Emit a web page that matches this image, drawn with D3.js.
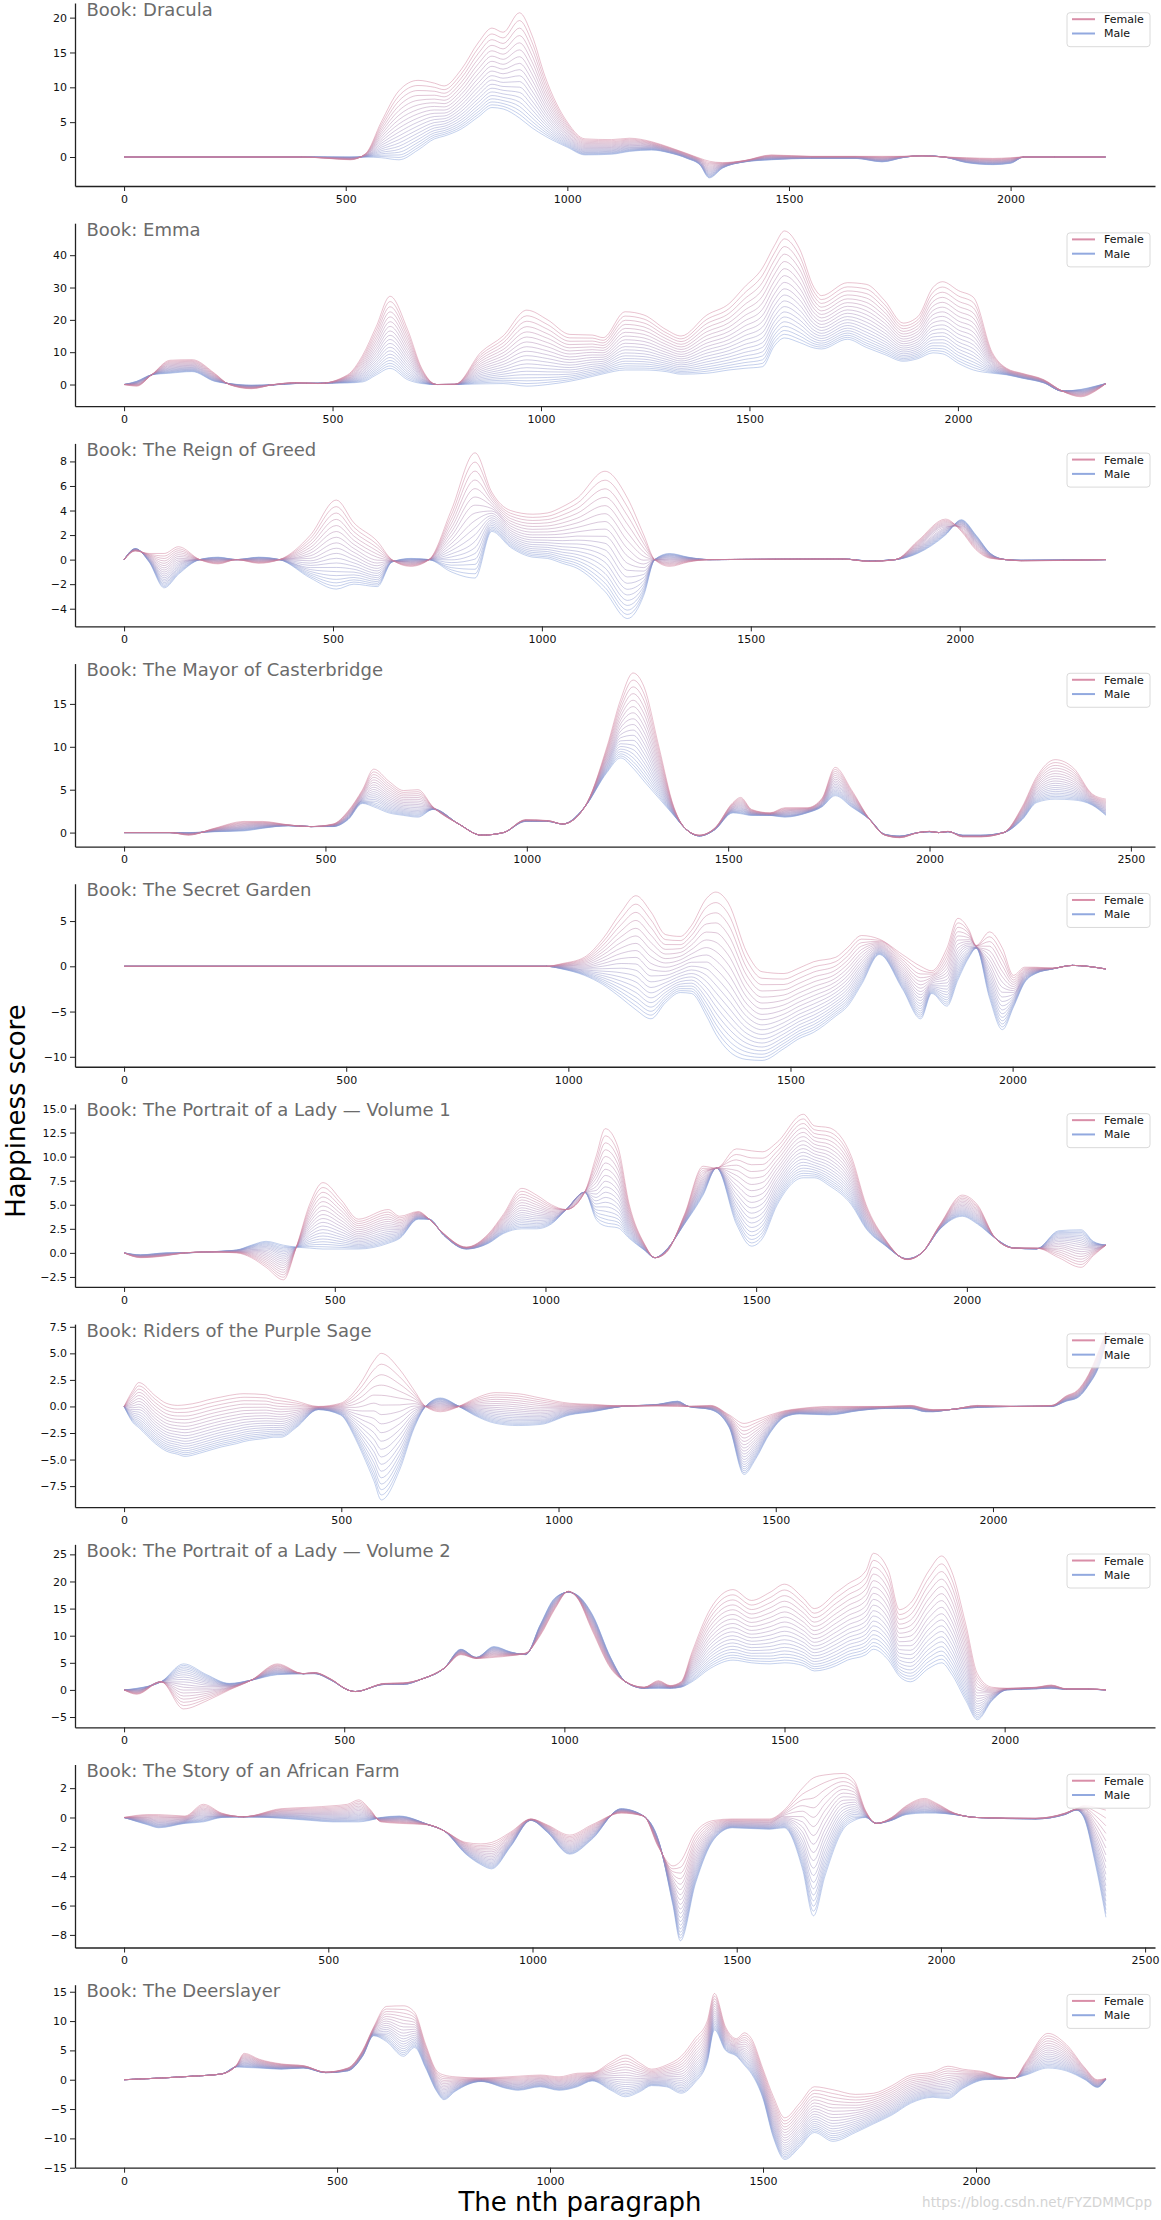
<!DOCTYPE html>
<html><head><meta charset="utf-8">
<script src="https://cdn.jsdelivr.net/npm/d3@7"></script>
<style>body{margin:0;background:#fff}svg{display:block;font-family:"DejaVu Sans",sans-serif}</style>
</head><body>
<svg id="chart" width="1161" height="2220"></svg>
<script>
// ---------------- data ----------------
const bookTitles = ["Dracula","Emma","The Reign of Greed","The Mayor of Casterbridge","The Secret Garden",
  "The Portrait of a Lady \u2014 Volume 1","Riders of the Purple Sage","The Portrait of a Lady \u2014 Volume 2",
  "The Story of an African Farm","The Deerslayer"];
const paragraphCounts = [2215, 2355, 2350, 2438, 2210, 2330, 2260, 2230, 2404, 2305];
const yDomains = [[-4.16,22.1],[-6.7,49.9],[-5.44,9.47],[-1.63,19.7],[-11.1,9.12],[-3.54,15.47],[-9.48,7.75],[-6.9,26.85],[-8.86,3.61],[-15.0,16.2]];
const yTickValues = [[0,5,10,15,20],[0,10,20,30,40],[-4,-2,0,2,4,6,8],[0,5,10,15],[-10,-5,0,5],
  [-2.5,0,2.5,5,7.5,10,12.5,15],[-7.5,-5,-2.5,0,2.5,5,7.5],[-5,0,5,10,15,20,25],[-8,-6,-4,-2,0,2],[-15,-10,-5,0,5,10,15]];
const yTickDecimals = [0,0,0,0,0,1,1,0,0,0];
const xTickValues = [[0,500,1000,1500,2000],[0,500,1000,1500,2000],[0,500,1000,1500,2000],[0,500,1000,1500,2000,2500],
  [0,500,1000,1500,2000],[0,500,1000,1500,2000],[0,500,1000,1500,2000],[0,500,1000,1500,2000],[0,500,1000,1500,2000,2500],[0,500,1000,1500,2000]];
const legendLabels = ["Female","Male"];
// weights of the female curve for the family of lines (0 = male, 1 = female)
const mixWeights = [0,0.034,0.07,0.109,0.151,0.196,0.243,0.293,0.346,0.401,0.459,0.519,0.582,0.647,0.714,0.783,0.854,0.926,1];

const draculaX = [0,400,460,510,545,580,620,663,700,722,760,800,830,855,892,920,950,1000,1040,1100,1140,1190,1230,1270,1300,1320,1350,1400,1460,1550,1650,1710,1760,1800,1850,1900,1960,2000,2030,2100,2214];
const draculaFemale = [0,0,-0.2,-0.4,0.5,5.0,9.5,11.0,10.6,10.2,12.5,16.5,18.5,17.9,20.7,17.5,11.5,5.0,2.6,2.5,2.7,2.2,1.4,0.5,-0.2,-0.6,-0.8,-0.5,0.3,0.1,0.1,0.1,0.1,0.15,0,-0.1,-0.2,-0.1,0,0,0];
const draculaMale = [0,0,0,0,0,-0.1,-0.4,1.0,2.6,3.0,4.0,5.8,7.1,6.9,5.6,4.2,3.0,1.4,0.3,0.4,0.8,1.0,0.6,-0.2,-1.2,-3.0,-1.6,-0.7,-0.4,-0.2,-0.2,-0.7,-0.05,0.2,0,-0.8,-1.1,-0.9,0,0,0];

const emmaX = [0,30,66,110,163,217,252,305,359,412,465,536,572,605,638,680,714,750,794,856,909,966,1016,1069,1123,1149,1202,1247,1300,1336,1398,1451,1487,1531,1560,1584,1620,1655,1673,1735,1780,1824,1869,1904,1940,1963,2002,2037,2082,2117,2153,2206,2250,2295,2330,2355];
const emmaFemale = [0,-0.5,3.0,7.5,7.7,3.5,0,-1.3,0,0.6,0.3,3,9,18,27.3,17,5,0,0.1,10,15,23,20,15.5,15.3,14.5,22.5,21.5,17,15,21.5,25,30,36,43,47.5,42,30,27.5,31.5,31,26,19,21,30,31.8,29,27,10,5,3.5,1.5,-2,-3.8,-2,0.3];
const emmaMale = [0,1.0,3.0,3.5,4.0,1.0,0.3,-0.2,-0.1,0.3,0.4,0.5,0.8,3.0,5.0,1.5,0.3,0,0,0.2,0.3,-0.5,0,1.0,2.5,3.3,4.5,4.5,4.0,3.2,3.5,4.5,5.0,5.5,12,14.4,13.0,11.3,11.0,14.0,11.5,9.3,7.2,8.0,9.8,9.5,6.5,4.5,3.5,3.0,2.0,0.5,-2.0,-1.5,-0.5,0.3];

const greedX = [0,27,60,96,130,181,225,269,322,372,446,508,550,606,641,686,730,783,840,880,925,978,1013,1049,1084,1151,1205,1244,1270,1306,1350,1400,1720,1784,1846,1899,1966,2004,2039,2074,2110,2147,2350];
const greedFemale = [0,0.7,0.5,0.5,1.05,0,-0.35,0,-0.3,0,2.0,4.85,3.0,1.5,0,-0.55,0,4.0,8.7,5.5,4.0,3.7,3.8,4.3,5.0,7.2,5.0,2.0,0,-0.55,-0.2,0,0.05,-0.15,0,1.5,3.3,2.3,0.8,0.1,0,-0.1,0];
const greedMale = [0,0.9,-0.2,-2.3,-1.2,0,0.2,0,0.2,0,-1.5,-2.4,-2.0,-2.2,-0.2,0.1,0,-1.0,-1.5,2.3,1.0,0.2,0.1,-0.3,-0.7,-2.6,-4.8,-2.9,0,0.5,0.2,0,0.05,-0.1,0,0.5,2.0,3.25,2.0,0.5,0,-0.05,0];

const mayorX = [0,114,160,224,298,344,408,464,519,556,592,620,657,694,730,767,831,887,942,997,1052,1089,1144,1199,1233,1264,1291,1328,1365,1393,1429,1466,1512,1531,1558,1604,1641,1696,1733,1766,1806,1852,1889,1926,1972,2000,2023,2046,2082,2128,2184,2230,2266,2312,2358,2404,2438];
const mayorFemale = [0,0,-0.3,0.5,1.3,1.3,0.9,0.7,1.0,2.5,5.0,7.4,6.0,4.9,5.0,3.0,1.0,-0.3,0,1.5,1.4,1.0,3.0,10.0,15.5,18.6,17.0,10.0,3.0,0.5,-0.3,0.5,3.5,4.1,2.7,2.3,2.9,2.9,4.0,7.6,5.0,1.5,-0.3,-0.6,0,0.15,0,0.15,-0.5,-0.5,0,3.0,6.5,8.5,7.5,4.5,3.9];
const mayorMale = [0,0,0,0.1,0.2,0.5,0.8,0.7,0.7,1.5,3.4,3.0,2.3,2.0,1.8,2.7,1.0,-0.3,0,1.3,1.3,1.0,3.0,7.0,8.7,7.5,6.0,4.0,2.0,0.5,-0.4,0.3,2.3,2.2,2.0,2.0,1.8,2.3,3.0,4.3,3.0,1.5,-0.2,-0.4,0,0.1,0,0.1,-0.3,-0.3,0,1.5,3.5,3.9,3.8,3.2,2.0];

const gardenX = [0,950,986,1036,1077,1119,1152,1186,1219,1252,1277,1311,1332,1360,1402,1436,1485,1519,1552,1602,1627,1660,1700,1752,1793,1818,1852,1877,1902,1918,1948,1977,2002,2027,2052,2090,2135,2210];
const gardenFemale = [0,0,0.3,1.0,3.0,6.0,7.8,6.0,3.5,3.3,4.5,7.5,8.2,7.0,1.5,-0.6,-0.8,-0.2,0.5,1.0,2.0,3.4,3.0,1.3,0,-0.5,2.0,5.3,4.0,2.3,3.8,2.0,-1.0,-0.1,-0.1,-0.2,0.1,-0.3];
const gardenMale = [0,0,-0.3,-1.0,-2.0,-3.5,-4.8,-5.8,-4.0,-2.9,-3.0,-5.5,-7.5,-9.3,-10.3,-10.4,-9.1,-8.0,-7.3,-5.5,-4.5,-2.0,1.3,-2.5,-5.8,-3.0,-4.4,-1.5,1.0,2.0,-3.5,-7.0,-4.5,-1.8,-0.8,-0.3,0.1,-0.3];

const lady1X = [0,39,100,144,197,267,302,337,378,408,440,472,515,556,627,654,698,724,759,812,865,900,944,979,1014,1049,1093,1120,1142,1172,1199,1234,1260,1286,1330,1374,1406,1453,1489,1515,1550,1612,1638,1673,1726,1761,1805,1858,1893,1937,1989,2025,2068,2112,2165,2218,2271,2300,2330];
const lady1Female = [0,-0.5,-0.3,0,0.1,0,-0.5,-1.5,-2.8,0.5,5.0,7.3,5.5,3.5,4.5,3.8,4.3,3.5,2.0,0.6,2.0,4.0,6.7,6.0,5.0,4.5,6.3,10.0,12.9,11.0,5.0,1.0,-0.5,0,4.0,9.0,8.8,10.8,10.6,10.5,11.5,14.4,13.2,13.0,10.0,5.0,1.5,-0.7,0,3.0,6.0,5.0,1.5,0.5,0.5,-0.5,-1.5,-0.3,0.8];
const lady1Male = [0,-0.2,0,0,0.1,0.3,0.8,1.2,0.8,0.6,0.5,0.4,0.4,0.4,1.0,1.5,3.5,3.5,1.8,0.4,1.0,2.0,2.5,2.5,3.0,4.5,6.3,3.5,2.8,2.6,1.5,0.3,-0.5,0.3,3.0,6.0,8.8,3.0,0.7,1.5,5.0,7.8,7.8,7.0,5.0,2.5,0.8,-0.6,0,2.5,3.8,3.0,1.5,0.5,0.4,2.3,2.4,1.2,0.8];

const ridersX = [0,20,34,72,97,123,140,174,191,225,259,276,327,344,361,396,447,498,532,549,575,592,634,668,694,728,771,805,856,907,958,1026,1078,1146,1229,1274,1299,1350,1393,1427,1453,1487,1521,1555,1623,1691,1750,1811,1845,1862,1900,1964,2050,2135,2169,2194,2220,2246,2260];
const ridersFemale = [0,1.5,2.25,1.0,0.3,0.1,0.15,0.4,0.6,0.9,1.15,1.2,1.1,0.9,0.8,0.5,0,0.3,1.5,2.5,4.3,5.0,3.5,1.5,0,-0.5,0,0.7,1.3,1.2,0.8,0.3,0.2,0.05,0.05,0,0,0.1,-0.8,-1.6,-1.3,-0.8,-0.4,-0.2,0,0,0,0.1,-0.2,-0.3,-0.3,0.1,0,0.1,1.0,1.5,3.0,5.5,7.0];
const ridersMale = [0,-1.5,-2.0,-3.5,-4.2,-4.5,-4.7,-4.4,-4.2,-3.8,-3.5,-3.3,-3.0,-2.9,-2.9,-2.0,-0.3,-0.8,-3.0,-4.5,-7.0,-8.8,-6.0,-2.0,0,0.8,0,-0.8,-1.6,-1.8,-1.7,-0.8,-0.5,0,0.2,0.5,0,-0.3,-2.0,-6.4,-5.0,-2.5,-1.0,-0.7,-0.8,-0.4,-0.2,-0.2,-0.5,-0.5,-0.3,-0.1,0,0,0.5,0.8,2.0,4.0,6.0];

const lady2X = [0,29,84,135,188,239,289,348,407,432,470,508,525,592,634,676,727,765,800,840,878,912,945,979,1009,1029,1063,1105,1139,1181,1214,1240,1265,1290,1332,1383,1425,1467,1500,1542,1568,1618,1643,1685,1702,1736,1761,1786,1828,1857,1879,1912,1938,1971,2005,2072,2106,2140,2190,2230];
const lady2Female = [0,-0.8,1.5,-3.5,-2.0,0,1.8,4.8,3.0,3.2,2.0,0,-0.3,1.2,1.3,2.0,4.0,6.5,5.8,6.0,6.3,6.8,10.0,15.0,18.2,17.0,11.0,4.0,1.5,0.5,1.7,0.8,1.5,7.0,15.0,18.5,16.5,18.0,19.5,17.0,15.0,18.0,19.5,22.0,25.2,22.0,14.8,16.0,22.0,24.7,22.0,12.0,3.0,0.5,0.3,0.5,0.9,0.2,0.2,0];
const lady2Male = [0,0.3,1.5,4.8,2.8,1.2,1.8,2.8,3.0,3.0,1.8,0,-0.3,1.0,1.0,2.0,4.0,7.5,6.0,8.0,7.0,6.5,12.0,17.0,18.0,17.5,14.0,6.0,1.5,0.3,0.3,0.3,0.5,1.5,4.0,5.5,5.0,4.8,5.0,4.5,3.5,4.5,5.5,6.5,7.5,5.5,2.5,1.5,4.0,5.0,3.0,-2.0,-5.5,-2.0,0,0.2,0.3,0.1,0.1,0];

const farmX = [0,58,85,149,194,239,293,384,457,511,547,574,601,629,674,746,783,837,873,900,946,996,1036,1091,1145,1217,1272,1308,1344,1362,1399,1444,1489,1580,1616,1661,1688,1716,1761,1788,1815,1842,1879,1915,1960,1987,2033,2087,2232,2304,2332,2350,2377,2404];
const farmFemale = [0,0.2,0.2,0.1,0.9,0.3,0.05,0.6,0.7,0.8,0.9,1.2,0.6,-0.3,-0.4,-0.5,-0.9,-1.7,-1.8,-1.7,-1.0,-0.1,-0.5,-1.2,-0.5,0.3,0.1,-2.0,-3.3,-3.0,-1.0,-0.2,-0.1,-0.1,0.5,2.0,2.7,2.9,3.0,2.5,0.5,-0.4,0,0.8,1.3,1.0,0.3,0,-0.05,0.3,0.6,0.8,0.7,0.5];
const farmMale = [0,-0.5,-0.7,-0.4,-0.3,0,0.05,-0.05,-0.2,-0.3,-0.3,-0.3,-0.2,0,0.1,-0.5,-0.9,-2.5,-3.2,-3.5,-2.0,-0.2,-1.0,-2.5,-1.5,0.6,0.1,-1.5,-6.0,-8.4,-4.5,-1.5,-0.7,-0.8,-0.7,-3.5,-6.7,-4.0,-0.8,-0.2,0,-0.4,-0.2,0.2,0.3,0.3,0.2,0,-0.1,0.2,0.5,0,-3.0,-6.8];

const deerX = [0,90,160,230,264,282,317,369,421,473,525,560,586,616,656,682,708,734,751,777,838,899,925,977,1021,1064,1099,1143,1177,1212,1238,1273,1308,1340,1369,1386,1412,1438,1456,1473,1499,1525,1551,1586,1621,1664,1717,1760,1803,1847,1899,1934,1969,2021,2056,2090,2117,2169,2212,2256,2285,2305];
const deerFemale = [0,0.3,0.6,1.0,2.5,4.5,3.5,2.7,2.4,1.3,2.0,5.0,9.0,12.5,12.6,11.5,6.0,1.5,0.8,0.5,0.3,0.5,0.6,0.8,0.5,1.1,1.2,3.0,4.2,2.8,1.8,2.5,4.0,7.0,10.0,14.7,9.0,7.0,8.0,7.0,2.0,-3.0,-6.5,-4.0,-1.2,-1.7,-2.5,-2.3,-1.0,0.8,1.3,2.3,1.8,1.3,0.5,0.3,3.0,7.9,6.0,2.0,0,0.2];
const deerMale = [0,0.3,0.6,1.0,2.2,2.1,2.0,1.8,2.0,1.2,1.5,4.0,7.5,6.5,4.0,5.5,2.0,-2.0,-3.4,-2.0,-0.3,-1.5,-1.8,-1.2,-1.8,-1.2,-0.2,-1.8,-2.9,-2.0,-1.0,-1.2,-2.3,-0.5,3.0,8.5,5.0,4.0,2.5,1.0,-3.0,-10.0,-13.6,-11.5,-9.0,-10.5,-9.0,-7.5,-6.0,-4.0,-3.0,-3.2,-1.5,0,0.1,0.3,0.8,2.0,1.5,0,-1.3,0.1];

const seriesX = [draculaX, emmaX, greedX, mayorX, gardenX, lady1X, ridersX, lady2X, farmX, deerX];
const seriesFemale = [draculaFemale, emmaFemale, greedFemale, mayorFemale, gardenFemale, lady1Female, ridersFemale, lady2Female, farmFemale, deerFemale];
const seriesMale = [draculaMale, emmaMale, greedMale, mayorMale, gardenMale, lady1Male, ridersMale, lady2Male, farmMale, deerMale];

// ---------------- drawing ----------------
const femaleColor = "#cf7a97", maleColor = "#7d98d6";
const legendFemale = "#d98ea8", legendMale = "#92a9df";
const svg = d3.select("#chart");
const left = 75, right = 1155, axH = 183, firstBottom = 186, step = 220.19;
const colorAt = d3.interpolateRgb(maleColor, femaleColor);

bookTitles.forEach((title, i) => {
  const bottom = firstBottom + i * step, top = bottom - axH;
  const N = paragraphCounts[i];
  const x = d3.scaleLinear().domain([-0.05 * N, 1.05 * N]).range([left, right]);
  const y = d3.scaleLinear().domain(yDomains[i]).range([bottom, top]);
  const g = svg.append("g");
  const clipId = "clip" + i;
  g.append("clipPath").attr("id", clipId).append("rect")
    .attr("x", left).attr("y", top).attr("width", right - left).attr("height", axH);

  const xs = seriesX[i], fem = seriesFemale[i], mal = seriesMale[i];
  const line = d3.line().x(d => x(d[0])).y(d => y(d[1])).curve(d3.curveMonotoneX);
  const lines = g.append("g").attr("clip-path", `url(#${clipId})`);
  mixWeights.forEach(t => {
    const pts = xs.map((xv, k) => [xv, mal[k] + t * (fem[k] - mal[k])]);
    lines.append("path").attr("d", line(pts)).attr("fill", "none")
      .attr("stroke", colorAt(t)).attr("stroke-width", 0.9).attr("stroke-opacity", 0.5);
  });

  // axes
  const fmt = yTickDecimals[i] ? d3.format(".1f") : d3.format("d");
  const ya = g.append("g").attr("transform", `translate(${left},0)`)
    .call(d3.axisLeft(y).tickValues(yTickValues[i]).tickFormat(fmt).tickSize(5).tickSizeOuter(0).tickPadding(3));
  const xa = g.append("g").attr("transform", `translate(0,${bottom})`)
    .call(d3.axisBottom(x).tickValues(xTickValues[i]).tickFormat(d3.format("d")).tickSize(5).tickSizeOuter(0).tickPadding(4));
  [ya, xa].forEach(a => {
    a.selectAll("text").attr("font-size", 11).attr("font-family", "DejaVu Sans").attr("fill", "#111");
    a.selectAll("line").attr("stroke", "#222").attr("stroke-width", 1);
    a.select(".domain").attr("stroke", "#222").attr("stroke-width", 1.3);
  });

  // title
  g.append("text").attr("x", 86.5).attr("y", top + 12.5).attr("font-size", 18)
    .attr("fill", "#6b6b6b").text("Book: " + title);

  // legend
  const lg = g.append("g").attr("transform", `translate(1067,${top + 9.7})`);
  lg.append("rect").attr("width", 83).attr("height", 34).attr("rx", 3)
    .attr("fill", "#fff").attr("fill-opacity", 0.8).attr("stroke", "#d0d0d0").attr("stroke-width", 0.8);
  legendLabels.forEach((lab, k) => {
    const ly = 6.5 + k * 14.3;
    lg.append("line").attr("x1", 5).attr("x2", 28).attr("y1", ly).attr("y2", ly)
      .attr("stroke", k === 0 ? legendFemale : legendMale).attr("stroke-width", 2);
    lg.append("text").attr("x", 37).attr("y", ly + 4).attr("font-size", 11).attr("fill", "#111").text(lab);
  });
});

svg.append("text").attr("transform", "translate(25,1111) rotate(-90)").attr("text-anchor", "middle")
  .attr("font-size", 26).attr("fill", "#000").text("Happiness score");
svg.append("text").attr("x", 580).attr("y", 2211).attr("text-anchor", "middle")
  .attr("font-size", 26).attr("fill", "#000").text("The nth paragraph");
svg.append("text").attr("x", 1152).attr("y", 2207).attr("text-anchor", "end")
  .attr("font-size", 13.5).attr("fill", "#d4d4d4").text("https://blog.csdn.net/FYZDMMCpp");
</script>
</body></html>
